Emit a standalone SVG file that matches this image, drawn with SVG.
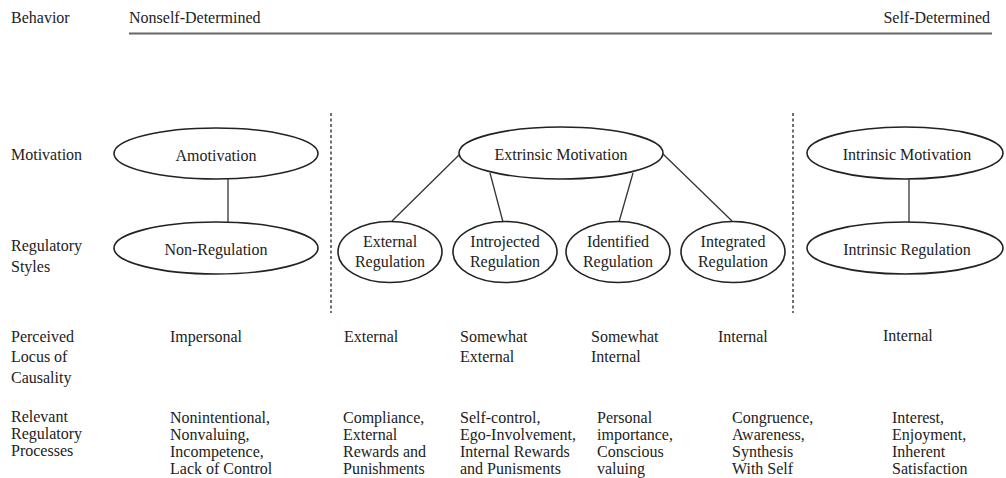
<svg xmlns="http://www.w3.org/2000/svg" width="1006" height="478" viewBox="0 0 1006 478" font-family="'Liberation Serif', 'DejaVu Serif', serif">
<style>
text{font-family:"Liberation Serif","DejaVu Serif",serif;font-size:16px;fill:#222}
.c{text-anchor:middle}
.e{fill:none;stroke:#222;stroke-width:1.6}
.l{stroke:#333;stroke-width:1.3;fill:none}
.d{stroke:#333;stroke-width:1.4;stroke-dasharray:3 2.5;fill:none}
</style>
<rect width="1006" height="478" fill="#fff"/>
<g id="header">
<text x="11" y="23">Behavior</text>
<text x="129" y="23">Nonself-Determined</text>
<text x="990" y="23" text-anchor="end">Self-Determined</text>
<line x1="129" y1="33.5" x2="992" y2="33.5" stroke="#666" stroke-width="1.8"/>
</g>
<g id="row-labels">
<text x="11" y="160">Motivation</text>
<text x="11" y="251">Regulatory</text>
<text x="11" y="272">Styles</text>
<text x="11" y="342">Perceived</text>
<text x="11" y="362">Locus of</text>
<text x="11" y="383">Causality</text>
<text x="11" y="422">Relevant</text>
<text x="11" y="439">Regulatory</text>
<text x="11" y="456">Processes</text>
</g>
<g id="connectors">
<line class="d" x1="331" y1="113" x2="331" y2="313"/>
<line class="d" x1="793" y1="113" x2="793" y2="313"/>
<line class="l" x1="228" y1="179" x2="228" y2="222"/>
<line class="l" x1="459" y1="155" x2="392" y2="221"/>
<line class="l" x1="490" y1="173" x2="503" y2="222"/>
<line class="l" x1="633" y1="173" x2="619" y2="222"/>
<line class="l" x1="663" y1="154" x2="732" y2="221"/>
<line class="l" x1="909" y1="179" x2="909" y2="222"/>
</g>
<g id="amotivation">
<ellipse class="e" cx="216" cy="153.5" rx="102" ry="25.5"/>
<text class="c" x="216" y="161">Amotivation</text>
</g>
<g id="non-regulation">
<ellipse class="e" cx="216" cy="248" rx="102" ry="26"/>
<text class="c" x="216" y="255">Non-Regulation</text>
</g>
<g id="extrinsic-motivation">
<ellipse class="e" cx="561" cy="153" rx="102" ry="26"/>
<text class="c" x="561" y="160">Extrinsic Motivation</text>
</g>
<g id="external-regulation">
<ellipse class="e" cx="390" cy="252" rx="52" ry="30.5"/>
<text class="c" x="390" y="247">External</text>
<text class="c" x="390" y="267">Regulation</text>
</g>
<g id="introjected-regulation">
<ellipse class="e" cx="505" cy="252" rx="52" ry="30.5"/>
<text class="c" x="505" y="247">Introjected</text>
<text class="c" x="505" y="267">Regulation</text>
</g>
<g id="identified-regulation">
<ellipse class="e" cx="618" cy="252" rx="52" ry="30.5"/>
<text class="c" x="618" y="247">Identified</text>
<text class="c" x="618" y="267">Regulation</text>
</g>
<g id="integrated-regulation">
<ellipse class="e" cx="733" cy="252" rx="52" ry="30.5"/>
<text class="c" x="733" y="247">Integrated</text>
<text class="c" x="733" y="267">Regulation</text>
</g>
<g id="intrinsic-motivation">
<ellipse class="e" cx="905" cy="153" rx="98" ry="26"/>
<text class="c" x="907" y="160">Intrinsic Motivation</text>
</g>
<g id="intrinsic-regulation">
<ellipse class="e" cx="905" cy="248" rx="98" ry="26"/>
<text class="c" x="907" y="255">Intrinsic Regulation</text>
</g>
<g id="locus">
<text x="170" y="342">Impersonal</text>
<text x="344" y="342">External</text>
<text x="460" y="342">Somewhat</text>
<text x="460" y="362">External</text>
<text x="591" y="342">Somewhat</text>
<text x="591" y="362">Internal</text>
<text x="718" y="342">Internal</text>
<text x="883" y="341">Internal</text>
</g>
<g id="processes">
<text x="170" y="423">Nonintentional,</text>
<text x="170" y="440">Nonvaluing,</text>
<text x="170" y="457">Incompetence,</text>
<text x="170" y="474">Lack of Control</text>
<text x="343" y="423">Compliance,</text>
<text x="343" y="440">External</text>
<text x="343" y="457">Rewards and</text>
<text x="343" y="474">Punishments</text>
<text x="460" y="423">Self-control,</text>
<text x="460" y="440">Ego-Involvement,</text>
<text x="460" y="457">Internal Rewards</text>
<text x="460" y="474">and Punisments</text>
<text x="597" y="423">Personal</text>
<text x="597" y="440">importance,</text>
<text x="597" y="457">Conscious</text>
<text x="597" y="474">valuing</text>
<text x="732" y="423">Congruence,</text>
<text x="732" y="440">Awareness,</text>
<text x="732" y="457">Synthesis</text>
<text x="732" y="474">With Self</text>
<text x="892" y="423">Interest,</text>
<text x="892" y="440">Enjoyment,</text>
<text x="892" y="457">Inherent</text>
<text x="892" y="474">Satisfaction</text>
</g>
</svg>
